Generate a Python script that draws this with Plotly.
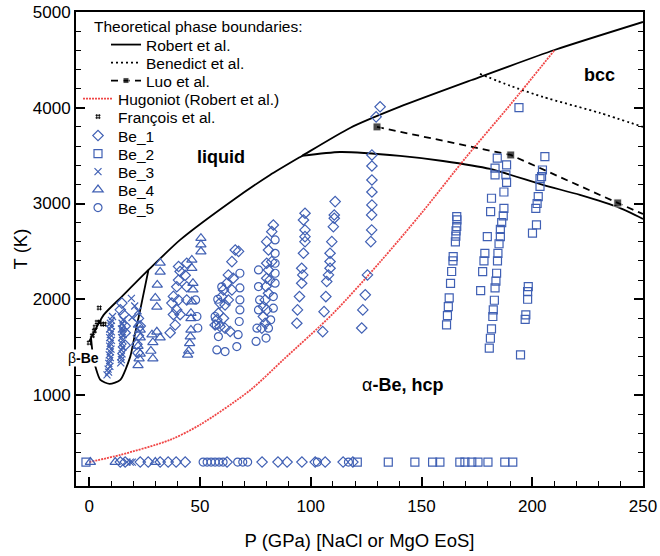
import plotly.graph_objects as go

# ---------------- data (P in GPa, T in K) ----------------
# Robert et al. theoretical boundaries
robert_melt_P = [0, 1.9, 6.5, 14.7, 26.7, 41, 65, 81.6, 96, 117.7, 140.3, 172.7, 210, 250]
robert_melt_T = [1560, 1646, 1837, 2028, 2306, 2620, 3037, 3298, 3497, 3789, 4011, 4290, 4603, 4896]
robert_beta_P = [0.8, 1.9, 5.0, 9.2, 14.0, 18.5, 20.7, 23.0, 26.7]
robert_beta_T = [1595, 1374, 1158, 1116, 1158, 1401, 1646, 1889, 2306]
robert_hcp_P = [96, 113.2, 140.3, 159.7, 181, 204.8, 221.5, 239.5, 250]
robert_hcp_T = [3497, 3538, 3497, 3444, 3361, 3194, 3090, 2954, 2839]

benedict_P = [176.4, 190, 204.8, 230.5, 250]
benedict_T = [4353, 4230, 4113, 3946, 3800]

luo_P = [129.9, 190.3, 238.6, 250]
luo_T = [3800, 3507, 3006, 2890]
luo_marker = [8, 8, 8, 0]

hug_P = [0, 14, 36.5, 50, 72.6, 87.5, 110, 131.3, 150, 170, 190, 210]
hug_T = [300, 375, 532, 690, 1050, 1367, 1850, 2390, 2900, 3480, 4030, 4600]

francois_P = [4.5, 2.7, 3.6, 4.5, 5.9, 6.8, 2.3, 1.4, 0.0]
francois_T = [1910, 1710, 1760, 1760, 1740, 1740, 1670, 1620, 1545]

be1_P = [14.7, 14.0, 15.5, 16.2, 16.2, 16.2, 22.2, 23.0, 22.2, 21.5, 22.0,
         40.3, 41.0, 40.3, 39.5, 38.0, 40.3, 37.3, 39.5, 41.0, 38.0, 38.8, 44.0, 43.3, 44.0, 44.0, 36.5,
         65.9, 67.4, 64.4, 62.8, 65.0, 62.1, 64.4, 60.6, 59.8, 62.8, 59.0, 61.3, 58.3, 60.6, 57.6, 56.8, 59.0, 61.3, 63.6,
         83.1, 82.4, 80.1, 80.9, 82.4, 80.1, 80.9, 80.1, 81.6, 79.8, 80.9, 79.4, 80.1, 78.6, 79.4, 77.9, 78.6,
         97.4, 96.7, 97.4, 97.4, 97.4, 96.7, 95.9, 96.4, 95.9, 94.9, 94.0, 93.7,
         111.0, 110.6, 110.6, 110.2, 109.5, 108.7, 108.7, 108.7, 108.0, 107.2, 106.8, 106.0, 105.4,
         131.3, 129.5, 127.6, 127.6, 127.6, 127.6, 127.6, 127.5, 127.5, 127.1, 125.6, 124.6, 123.5, 123.0,
         14.0, 16.2, 23.0, 26.6, 32.0, 35.6, 39.2, 43.3, 62.2, 78.0, 85.2, 89.3, 96.0, 102.0, 106.5, 114.6, 119.0]
be1_T = [1960, 1890, 1840, 1720, 1650, 1520, 1800, 1720, 1620, 1530, 1440,
         2342, 2290, 2200, 2130, 2030, 1993, 1960, 1889, 1840, 1840, 1732, 2376, 2250, 2130, 1993, 1650,
         2515, 2500, 2393, 2254, 2220, 2167, 2098, 2098, 2028, 1993, 1960, 1941, 1855, 1802, 1785, 1732, 1715, 1698, 1663,
         2776, 2706, 2602, 2515, 2393, 2376, 2306, 2220, 2202, 2133, 2063, 1993, 1889, 1819, 1750, 1698, 1924,
         2898, 2828, 2724, 2654, 2602, 2481, 2324, 2254, 2167, 2028, 1889, 1750,
         3020, 2880, 2846, 2758, 2602, 2481, 2394, 2324, 2254, 2185, 2028, 1871, 1662,
         4010, 3905, 3507, 3392, 3246, 3120, 2985, 2881, 2724, 2602, 2254, 2046, 1889, 1700,
         300, 300, 300, 300, 300, 300, 300, 300, 300, 300, 300, 300, 300, 300, 300, 300, 300]

be2_P = [165.9, 166.0, 165.9, 165.6, 165.5, 165.3, 164.3, 164.2, 163.6, 163.1, 162.5, 162.1, 161.7, 161.3,
         184.2, 183.2, 183.2, 181.6, 181.2, 179.7, 178.6, 178.2, 177.6, 176.7,
         188.4, 188.1, 188.4, 187.2, 187.2, 186.9, 186.2, 185.6, 185.6, 185.0, 184.5, 184.3, 183.9, 183.6,
         183.2, 182.9, 182.4, 182.2, 181.6, 181.1, 180.6,
         194.0, 194.7,
         205.7, 204.6, 204.2, 203.5, 203.5, 202.7, 202.2, 201.6, 201.9, 200.1,
         198.2, 197.9, 197.9, 197.1, 196.8,
         -1.5, 121.0, 135.0, 147.0, 155.0, 158.3, 167.3, 169.6, 172.7, 175.5, 180.0, 187.6, 191.2]
be2_T = [2863, 2830, 2760, 2715, 2660, 2600, 2446, 2400, 2290, 2167, 2015, 1924, 1830, 1732,
         3473, 3370, 3300, 3055, 2915, 2654, 2480, 2400, 2289, 2090,
         3403, 3300, 3220, 3120, 2950, 2870, 2800, 2730, 2654, 2580, 2480, 2400, 2272, 2190,
         2120, 1990, 1889, 1820, 1690, 1593, 1489,
         4001, 1419,
         3490, 3350, 3280, 3260, 3180, 3072, 3000, 2950, 2776, 2690,
         2133, 2080, 2000, 1837, 1790,
         300, 300, 300, 300, 300, 300, 300, 300, 300, 300, 300, 300, 300]

be3_P = [10.5, 10.0, 9.5, 9.8, 9.2, 10.0, 9.5, 9.2, 10.0, 9.5, 9.2, 9.8, 9.5, 9.0, 9.5, 9.2, 8.8, 9.3, 8.5, 8.7, 8.0,
         15.2, 14.8, 15.5, 14.5, 15.0, 15.3, 14.6, 15.0, 14.7, 15.2, 14.5, 14.8, 14.3, 14.5, 14.2,
         19.0, 20.5, 22.0, 19.3,
         17.0, 18.5, 19.4]
be3_T = [1820, 1780, 1750, 1720, 1690, 1660, 1630, 1600, 1570, 1540, 1510, 1480, 1450, 1420, 1390, 1360, 1330, 1300, 1270, 1240, 1210,
         1785, 1750, 1720, 1690, 1660, 1630, 1600, 1570, 1540, 1500, 1470, 1430, 1400, 1370, 1335,
         2010, 1930, 1880, 1810,
         300, 300, 300]

be4_P = [22.2, 23.0, 23.0, 22.0, 23.0, 22.5, 22.0,
         32.0, 32.0, 30.7, 29.8, 30.5, 30.5, 28.3, 32.0, 28.7, 27.8, 28.7,
         50.4, 50.4, 50.4, 46.3, 46.3, 46.8, 46.8, 46.3, 45.9, 45.9, 45.9, 45.6, 45.3, 44.9, 44.4,
         0.5, 11.7, 29.8]
be4_T = [1732, 1680, 1600, 1510, 1430, 1380, 1310,
         2380, 2286, 2150, 2014, 1920, 1660, 1630, 1600, 1550, 1460, 1380,
         2638, 2570, 2498, 2411, 2325, 2168, 2100, 1976, 1855, 1800, 1680, 1610, 1540, 1460, 1420,
         300, 300, 300]

be5_P = [68.0, 68.0, 68.0, 68.0, 67.7, 67.2, 66.6, 61.3, 57.6, 58.3, 57.3, 56.8, 59.8, 58.0,
         83.9, 83.9, 83.9, 83.9, 83.9, 83.1, 83.1, 81.9, 80.9, 79.8, 76.4, 76.4, 76.9, 76.4, 75.7, 75.3,
         48.6, 48.0, 49.0,
         51.4, 53.2, 55.0, 56.8, 58.6, 60.4, 67.0, 69.3, 71.5, 103.0, 117.0]
be5_T = [2272, 2118, 1993, 1889, 1768, 1630, 1506, 1454, 1471, 1610, 1732, 1820, 2130, 2000,
         2620, 2480, 2376, 2272, 2168, 2028, 1907, 1785, 1698, 1595, 2306, 2133, 1993, 1889, 1698, 1560,
         1820, 1993, 1700,
         300, 300, 300, 300, 300, 300, 300, 300, 300, 300, 300]

# ---------------- figure ----------------
FONT = "Liberation Sans, Arial, Helvetica, sans-serif"
BLUE = "#4060b4"

robert_P = robert_melt_P + [None] + robert_beta_P + [None] + robert_hcp_P
robert_T = robert_melt_T + [None] + robert_beta_T + [None] + robert_hcp_T

fig = go.Figure()

fig.add_trace(go.Scatter(x=robert_P, y=robert_T, mode="lines", name="Robert et al.",
                         line=dict(color="black", width=1.8, shape="spline", smoothing=0.6),
                         connectgaps=False, legend="legend"))
fig.add_trace(go.Scatter(x=benedict_P, y=benedict_T, mode="lines", name="Benedict et al.",
                         line=dict(color="black", width=1.8, dash="2px,3px", shape="spline", smoothing=0.6),
                         legend="legend2"))
fig.add_trace(go.Scatter(x=luo_P, y=luo_T, mode="lines+markers", name="Luo et al.",
                         line=dict(color="black", width=1.8, dash="7px,5px"),
                         marker=dict(symbol="square", color="black", size=luo_marker), legend="legend3"))
fig.add_trace(go.Scatter(x=hug_P, y=hug_T, mode="lines", name="Hugoniot (Robert et al.)",
                         line=dict(color="rgb(240,70,70)", width=1.8, dash="2px,1px", shape="spline", smoothing=0.8),
                         legend="legend4"))
fig.add_trace(go.Scatter(x=francois_P, y=francois_T, mode="markers", name="François et al.",
                         marker=dict(symbol="hash-open", color="black", size=5, line=dict(width=0.9, color="black")),
                         legend="legend5"))

be_sets = [
    ("Be_1", be1_P, be1_T, "diamond-open", 8),
    ("Be_2", be2_P, be2_T, "square-open", 8),
    ("Be_3", be3_P, be3_T, "x-thin-open", 7),
    ("Be_4", be4_P, be4_T, "triangle-up-open", 9),
    ("Be_5", be5_P, be5_T, "circle-open", 8),
]
for i, (nm, px, py, sym, sz) in enumerate(be_sets):
    fig.add_trace(go.Scatter(x=px, y=py, mode="markers", name=nm,
                             marker=dict(symbol=sym, size=sz, color=BLUE,
                                         line=dict(width=1.2, color=BLUE)),
                             legend=f"legend{6 + i}"))

# plot area in pixels
L, R, TOP, B = 76, 643, 12, 486
W, H = R - L, B - TOP

def px2paper(xp, yp):
    return (xp - L) / W, (B - yp) / H

legend_pos = [(106, 45), (106, 63), (106, 81),
              (78, 99), (78, 117), (78, 136), (78, 154), (78, 172), (78, 190), (78, 208)]
layout_legends = {}
for i, (xp, yp) in enumerate(legend_pos):
    key = "legend" if i == 0 else f"legend{i + 1}"
    lx, ly = px2paper(xp, yp)
    layout_legends[key] = dict(x=lx, y=ly, xanchor="left", yanchor="middle",
                               bgcolor="rgba(0,0,0,0)", borderwidth=0,
                               font=dict(family=FONT, size=15.5, color="black"))

fig.update_layout(**layout_legends)

tx, ty = px2paper(92, 27)
fig.add_annotation(x=tx, y=ty, xref="paper", yref="paper", xanchor="left", yanchor="middle",
                   text="Theoretical phase boundaries:", showarrow=False,
                   font=dict(family=FONT, size=15.5, color="black"))

fig.add_annotation(x=59.5, y=3486, text="<b>liquid</b>", showarrow=False,
                   font=dict(family=FONT, size=18, color="black"))
fig.add_annotation(x=230.5, y=4342, text="<b>bcc</b>", showarrow=False,
                   font=dict(family=FONT, size=18, color="black"))
fig.add_annotation(x=141.6, y=1106, text="α<b>-Be, hcp</b>", showarrow=False,
                   font=dict(family=FONT, size=18, color="black"))
fig.add_annotation(x=-2.7, y=1388, text="β<b>-Be</b>", showarrow=False, bgcolor="white",
                   borderpad=0, font=dict(family=FONT, size=14, color="black"))

fig.update_layout(
    width=660, height=556,
    margin=dict(l=L, r=660 - R, t=TOP, b=556 - B, pad=0, autoexpand=False),
    paper_bgcolor="white", plot_bgcolor="white",
    font=dict(family=FONT, size=17, color="black"),
    showlegend=True,
    xaxis=dict(range=[-6, 250], tick0=0, dtick=50, ticks="inside", ticklen=9, tickwidth=1.5,
               tickcolor="black", showline=True, linecolor="black", linewidth=1.8, mirror=True,
               showgrid=False, zeroline=False, automargin=False, ticklabelstandoff=4,
               minor=dict(dtick=10, tick0=0, ticks="inside", ticklen=5, tickwidth=1.2, tickcolor="black",
                          showgrid=False),
               tickfont=dict(family=FONT, size=17),
               title=dict(text="P (GPa) [NaCl or MgO EoS]", font=dict(family=FONT, size=18.5), standoff=19)),
    yaxis=dict(range=[50, 5000], tick0=0, dtick=1000, ticks="inside", ticklen=9, tickwidth=1.5,
               tickcolor="black", showline=True, linecolor="black", linewidth=1.8, mirror="ticks",
               showgrid=False, zeroline=False, automargin=False,
               minor=dict(dtick=200, tick0=0, ticks="inside", ticklen=5, tickwidth=1.2, tickcolor="black",
                          showgrid=False),
               tickfont=dict(family=FONT, size=17),
               title=dict(text="T (K)", font=dict(family=FONT, size=18.5), standoff=0)),
)

fig.write_html("out.html", config={"displayModeBar": False},
               post_script="document.body.style.margin='0px';")
